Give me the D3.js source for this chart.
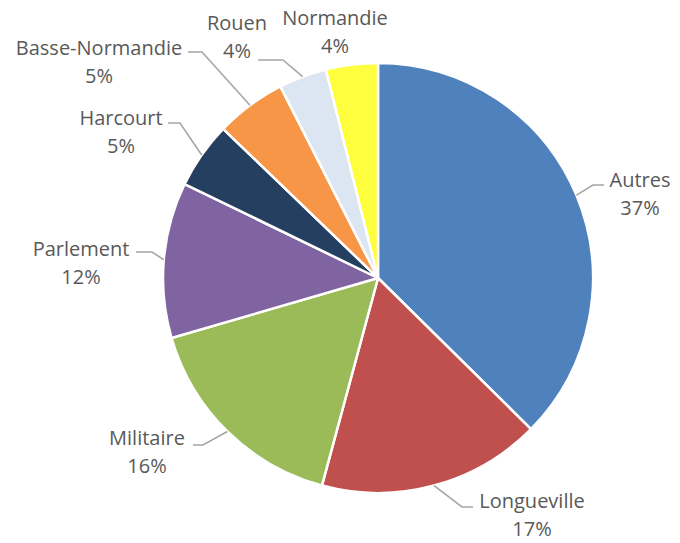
<!DOCTYPE html>
<html>
<head>
<meta charset="utf-8">
<script src="https://cdn.jsdelivr.net/npm/d3@7"></script>
<style>
  body { margin: 0; background: #fff; }
  svg { display: block; font-family: "Open Sans", sans-serif; }
</style>
</head>
<body>
<svg id="chart" width="680" height="543"></svg>
<script>
// data
var categories = ["Autres", "Longueville", "Militaire", "Parlement", "Harcourt", "Basse-Normandie", "Rouen", "Normandie"];
var shares = [37.4, 16.8, 16.3, 11.7, 5.0, 5.3, 3.6, 3.9];
var colors = ["#4f81bd", "#c0504d", "#9bbb59", "#8064a2", "#243f60", "#f79646", "#dce6f2", "#ffff40"];

// label layout (text centre x, baseline of first line) and leader elbow/end
var labelX = [640, 532, 147, 81, 121, 99, 237, 335];
var labelY = [187, 508, 445, 256, 125, 55, 30, 25];
var leaderElbow = [[593, 185], [462, 507], [203, 445], [152, 252], [180, 123], [202, 52], [283, 60], null];
var leaderEnd = [[604, 185], [473, 507], [193, 445], [136, 252], [168, 123], [188, 52], [258, 60], null];

var cx = 378, cy = 278, radius = 215;

var svg = d3.select("#chart");
var g = svg.append("g").attr("transform", "translate(" + cx + "," + cy + ")");

var pie = d3.pie().sort(null).value(function (d) { return d; });
var arcs = pie(shares);

var arc = d3.arc().innerRadius(0).outerRadius(radius);

g.selectAll("path.slice")
  .data(arcs)
  .enter()
  .append("path")
  .attr("class", "slice")
  .attr("d", arc)
  .attr("fill", function (d, i) { return colors[i]; })
  .attr("stroke", "#fff")
  .attr("stroke-width", 2.5)
  .attr("stroke-linejoin", "round");

// leader lines
arcs.forEach(function (d, i) {
  if (!leaderElbow[i]) return;
  var mid = (d.startAngle + d.endAngle) / 2;
  var sx = cx + radius * Math.sin(mid);
  var sy = cy - radius * Math.cos(mid);
  svg.append("polyline")
    .attr("points", [[sx, sy], leaderElbow[i], leaderEnd[i]].map(function (p) { return p.join(","); }).join(" "))
    .attr("fill", "none")
    .attr("stroke", "#a6a6a6")
    .attr("stroke-width", 1.6);
});

// labels
var total = d3.sum(shares);
categories.forEach(function (name, i) {
  var t = svg.append("text")
    .attr("x", labelX[i])
    .attr("y", labelY[i])
    .attr("text-anchor", "middle")
    .attr("fill", "#595959")
    .style("font-size", "20px");
  t.append("tspan").attr("x", labelX[i]).text(name);
  t.append("tspan").attr("x", labelX[i]).attr("dy", 28)
    .text(Math.round(shares[i] / total * 100) + "%");
});
</script>
</body>
</html>
